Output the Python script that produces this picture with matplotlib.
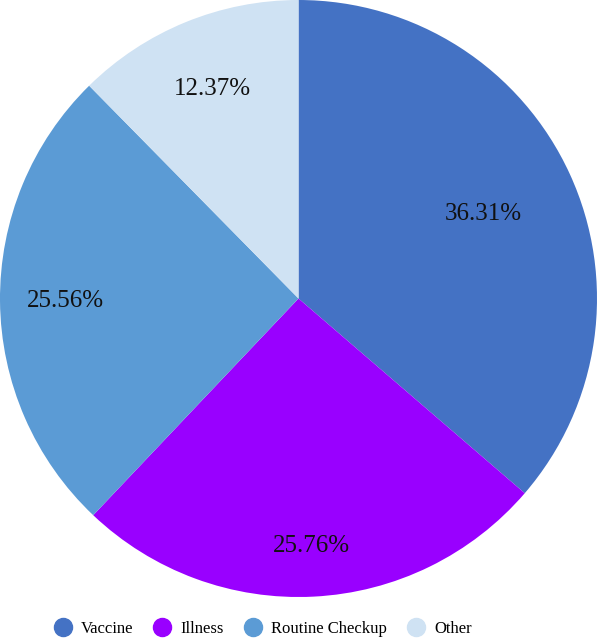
import numpy as np
import matplotlib.pyplot as plt
from matplotlib.lines import Line2D

labels = ['Vaccine', 'Illness', 'Routine Checkup', 'Other']
values = [36.31, 25.76, 25.56, 12.37]
colors = ['#4472C4', '#9900FF', '#5B9BD5', '#CFE2F3']

# per-label radial position (fraction of radius)
label_r = [0.68, 0.83, 0.78, 0.76]

plt.rcParams['font.family'] = ['Liberation Serif', 'DejaVu Serif']

fig = plt.figure(figsize=(5.97, 6.42), dpi=100)
ax = fig.add_axes([0.0, 45 / 642, 1.0, 597 / 642])

wedges, _ = ax.pie(values, colors=colors, startangle=90, counterclock=False,
                   wedgeprops=dict(linewidth=0))
ax.set_aspect('equal')
ax.set_xlim(-1, 1)
ax.set_ylim(-1, 1)

for w, v, r in zip(wedges, values, label_r):
    ang = np.deg2rad((w.theta1 + w.theta2) / 2)
    ax.text(r * np.cos(ang), r * np.sin(ang), f'{v:.2f}%',
            ha='center', va='center', fontsize=18, color='#111111')

handles = [Line2D([], [], marker='o', linestyle='', markersize=13,
                  markerfacecolor=c, markeredgecolor=c) for c in colors]
fig.legend(handles, labels, loc='center', bbox_to_anchor=(0.435, 1 - 629 / 642),
           ncol=4, frameon=False, fontsize=12, handletextpad=0.2,
           columnspacing=0.8, handlelength=1.83)

fig.savefig('out.png', dpi=100)
